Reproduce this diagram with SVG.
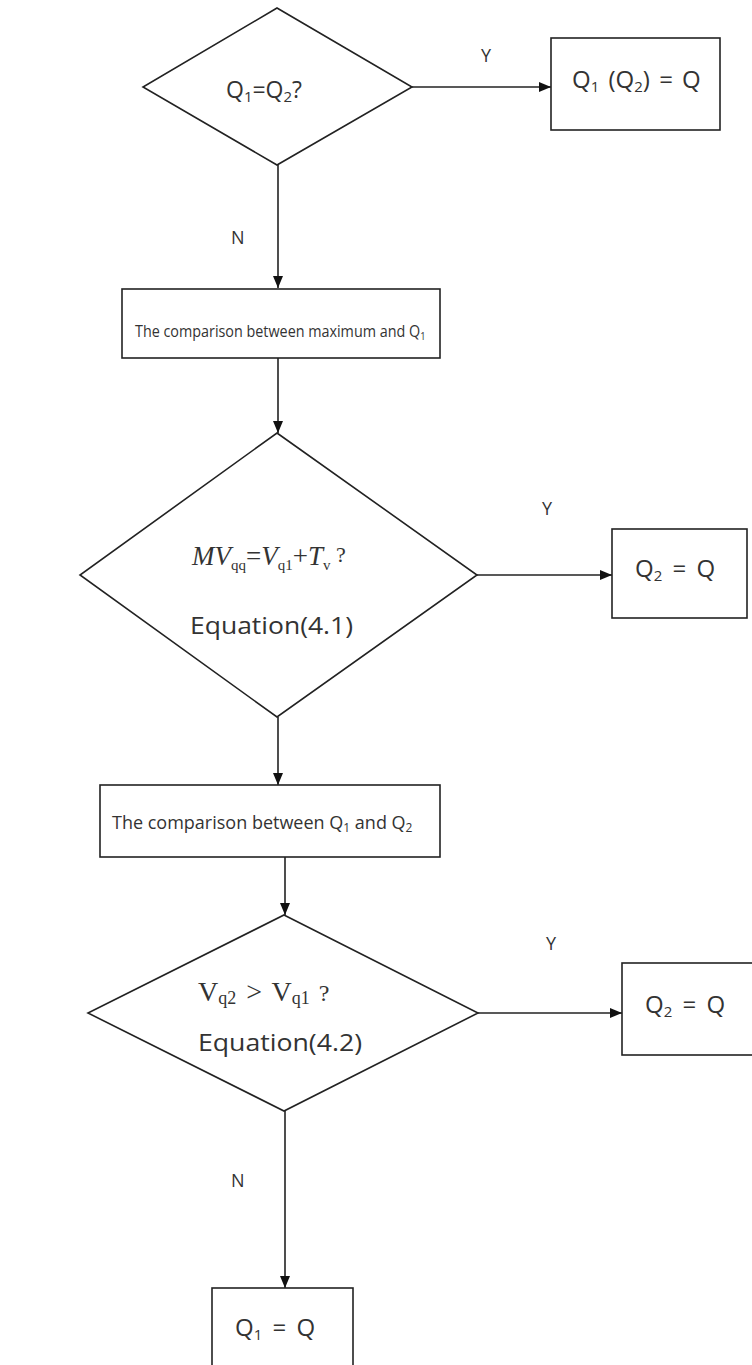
<svg xmlns="http://www.w3.org/2000/svg" width="752" height="1365" viewBox="0 0 752 1365">
<style>
.shape{fill:#fff;stroke:#222;stroke-width:1.6}
.conn{stroke:#222;stroke-width:1.6;fill:none}
.t{font-family:"Open Sans","Liberation Sans",sans-serif;fill:#333}
.m{font-family:"Liberation Serif",serif;fill:#333}
</style>
<defs>
<marker id="ah" viewBox="0 0 12 10" refX="12" refY="5" markerWidth="12" markerHeight="10" markerUnits="userSpaceOnUse" orient="auto">
<path d="M0,0 L12,5 L0,10 Z" fill="#111"/>
</marker>
</defs>
<rect width="752" height="1365" fill="#fff"/>
<g id="connectors">
<line class="conn" x1="412" y1="87" x2="551" y2="87" marker-end="url(#ah)"/>
<line class="conn" x1="278" y1="165" x2="278" y2="288" marker-end="url(#ah)"/>
<line class="conn" x1="278" y1="358" x2="278" y2="433" marker-end="url(#ah)"/>
<line class="conn" x1="477" y1="575" x2="612" y2="575" marker-end="url(#ah)"/>
<line class="conn" x1="278" y1="717" x2="278" y2="785" marker-end="url(#ah)"/>
<line class="conn" x1="285" y1="857" x2="285" y2="915" marker-end="url(#ah)"/>
<line class="conn" x1="478" y1="1013" x2="622" y2="1013" marker-end="url(#ah)"/>
<line class="conn" x1="285" y1="1111" x2="285" y2="1288" marker-end="url(#ah)"/>
<text class="t" font-size="18" x="481" y="62">Y</text>
<text class="t" font-size="18" x="231" y="244">N</text>
<text class="t" font-size="18" x="542" y="515">Y</text>
<text class="t" font-size="18" x="546" y="950">Y</text>
<text class="t" font-size="18" x="231" y="1187">N</text>
</g>
<g id="d1">
<polygon class="shape" points="277,8 412,87 277,165 143,87"/>
<text class="t" x="226" y="98" font-size="23">Q<tspan font-size="15" dy="4">1</tspan><tspan dy="-4">=Q</tspan><tspan font-size="15" dy="4">2</tspan><tspan dy="-4">?</tspan></text>
</g>
<g id="b1">
<rect class="shape" x="551" y="38" width="169" height="92"/>
<text class="t" x="572" y="88" font-size="24" word-spacing="3">Q<tspan font-size="15" dy="4">1</tspan><tspan dy="-4"> (Q</tspan><tspan font-size="15" dy="4">2</tspan><tspan dy="-4">) = Q</tspan></text>
</g>
<g id="b2">
<rect class="shape" x="122" y="289" width="318" height="69"/>
<text class="t" transform="translate(135,337) scale(0.845,1)" x="0" y="0" font-size="17">The comparison between maximum and Q<tspan font-size="11" dy="3">1</tspan></text>
</g>
<g id="d2">
<polygon class="shape" points="277,433 477,575 277,717 80,575"/>
<text class="m" x="192" y="565" font-size="27" font-style="italic">MV<tspan font-size="15" font-style="normal" dy="5">qq</tspan><tspan font-style="normal" dy="-5">=</tspan>V<tspan font-size="15" font-style="normal" dy="5">q1</tspan><tspan font-style="normal" dy="-5">+</tspan>T<tspan font-size="15" font-style="normal" dy="5">v</tspan><tspan font-style="normal" dy="-8" font-size="22">  ?</tspan></text>
<text class="t" x="190" y="634" font-size="24" textLength="163" lengthAdjust="spacingAndGlyphs">Equation(4.1)</text>
</g>
<g id="b3">
<rect class="shape" x="612" y="529" width="135" height="89"/>
<text class="t" x="635" y="577" font-size="24" word-spacing="4">Q<tspan font-size="15" dy="4">2</tspan><tspan dy="-4"> = Q</tspan></text>
</g>
<g id="b4">
<rect class="shape" x="100" y="785" width="340" height="72"/>
<text class="t" x="112" y="829" font-size="18">The comparison between Q<tspan font-size="12" dy="3">1</tspan><tspan dy="-3"> and Q</tspan><tspan font-size="12" dy="3">2</tspan></text>
</g>
<g id="d3">
<polygon class="shape" points="284,915 478,1013 284,1111 88,1013"/>
<text class="m" x="198" y="1001" font-size="28" word-spacing="3">V<tspan font-size="18" dy="3">q2</tspan><tspan dy="-3"> &gt; V</tspan><tspan font-size="18" dy="3">q1</tspan><tspan dy="-3" font-size="24"> ?</tspan></text>
<text class="t" x="198" y="1051" font-size="24" textLength="164" lengthAdjust="spacingAndGlyphs">Equation(4.2)</text>
</g>
<g id="b5">
<rect class="shape" x="622" y="963" width="135" height="92"/>
<text class="t" x="645" y="1013" font-size="24" word-spacing="4">Q<tspan font-size="15" dy="4">2</tspan><tspan dy="-4"> = Q</tspan></text>
</g>
<g id="b6">
<rect class="shape" x="212" y="1288" width="141" height="90"/>
<text class="t" x="235" y="1336" font-size="24" word-spacing="4">Q<tspan font-size="15" dy="4">1</tspan><tspan dy="-4"> = Q</tspan></text>
</g>
</svg>
